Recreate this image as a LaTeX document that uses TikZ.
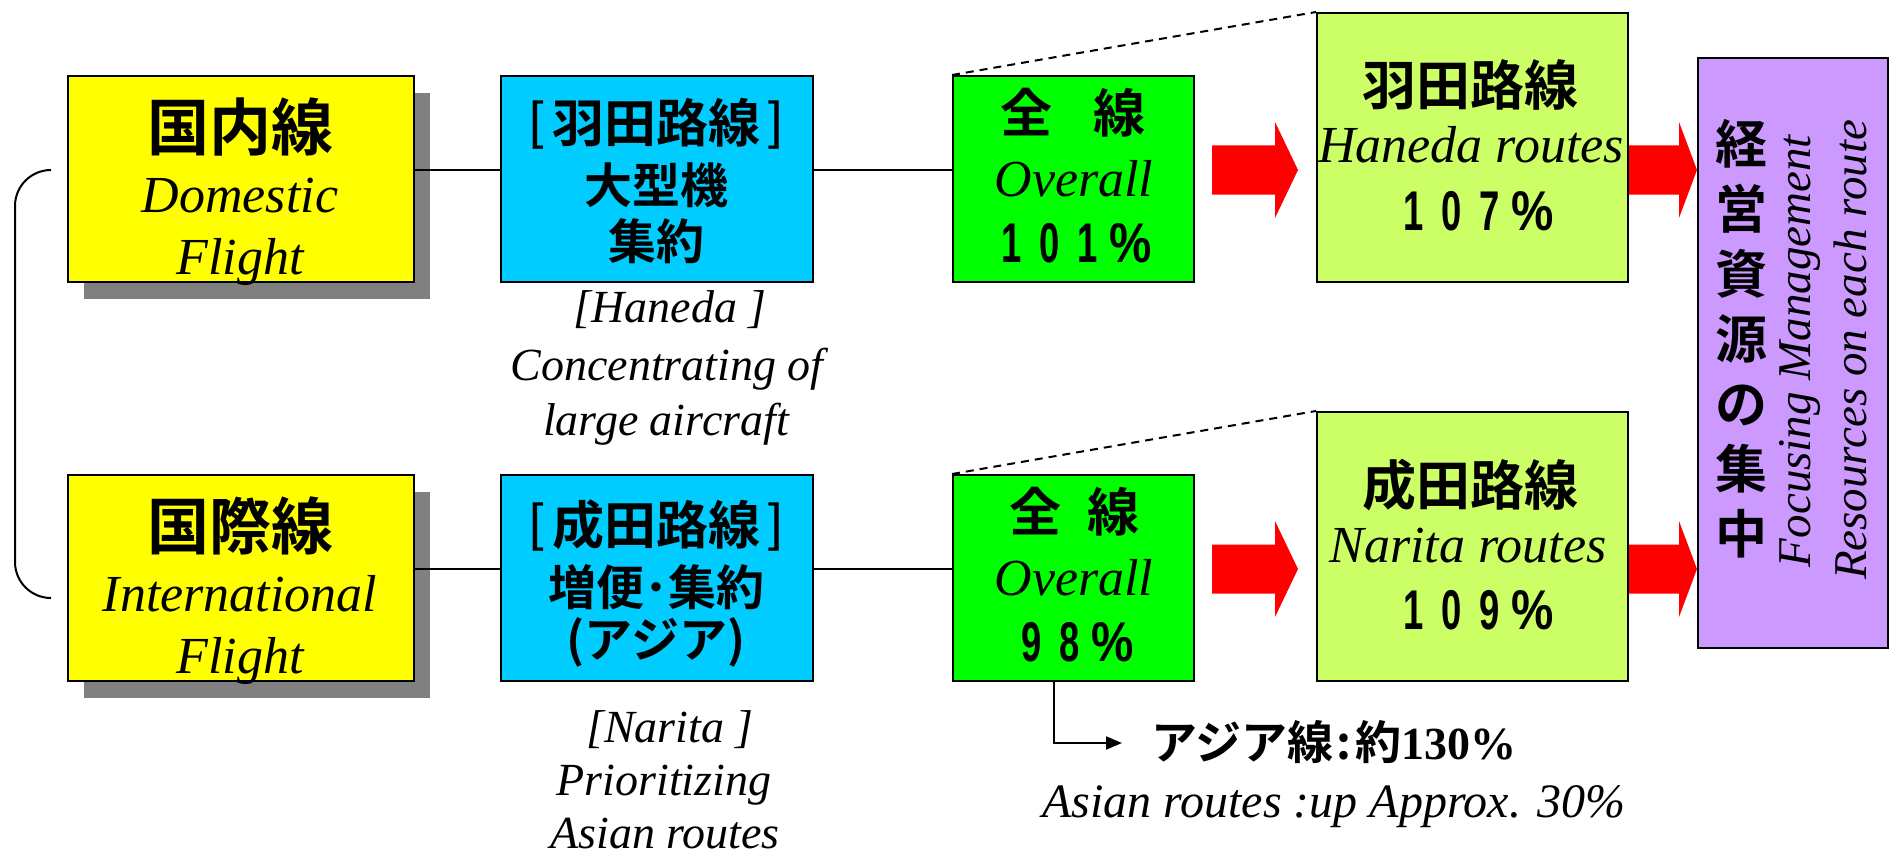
\documentclass[tikz,border=0pt]{standalone}
\usepackage{graphicx}
\usepackage{fontspec}
\setmainfont{Liberation Serif}
\newfontfamily\jp{Noto Sans CJK JP Bold}
\newfontfamily\dgf{Liberation Sans Bold}
\newfontfamily\lsans{Liberation Sans}
\usetikzlibrary{arrows.meta,calc,shadows}
\definecolor{cyel}{HTML}{FFFF00}
\definecolor{cblue}{HTML}{00CCFF}
\definecolor{cgreen}{HTML}{00FF00}
\definecolor{clight}{HTML}{CCFF66}
\definecolor{cpurple}{HTML}{CC99FF}
\definecolor{cred}{HTML}{FF0000}
\definecolor{cshadow}{HTML}{808080}
\newcommand\fs[1]{\fontsize{#1pt}{#1pt}\selectfont}
\newcommand\dg[1]{\makebox[38pt]{\scalebox{0.65}[1]{#1}}}
\newcommand\pc{\makebox[48pt]{\scalebox{0.85}[1]{\%}}}
\newcommand\lb{\raisebox{4pt}{\lsans[}\hspace{8pt}}
\newcommand\rb{\hspace{8pt}\raisebox{4pt}{\lsans]}}
\newcommand\bigarrow[4]{%
  \fill[cred] ($(#1)+(#3,-24.5)$) -- ($(#2)+(-#4,-24.5)$) -- ($(#2)+(-#4,-48)$) -- (#2)
    -- ($(#2)+(-#4,48)$) -- ($(#2)+(-#4,24.5)$) -- ($(#1)+(#3,24.5)$) -- cycle;}
\begin{document}
\begin{tikzpicture}[x=1pt,y=-1pt,
  box/.style={draw=black, line width=2pt, anchor=north west, inner sep=0pt},
  shbox/.style={box, drop shadow={shadow xshift=16pt, shadow yshift=-17pt, fill=cshadow, opacity=1}},
  txt/.style={inner sep=0pt},
  jpbig/.style={txt, font=\jp\fs{62}},
  jpmid/.style={txt, font=\jp\fs{52}},
  jpsm/.style={txt, font=\jp\fs{48}},
  it52/.style={txt, anchor=base, font=\itshape\fs{52}},
  it46/.style={txt, anchor=base, font=\itshape\fs{46}},
  num/.style={txt, font=\dgf\fs{56}},
  conn/.style={line width=2pt},
  dashline/.style={line width=2pt, dash pattern=on 8pt off 6pt}]
\useasboundingbox (0,0) rectangle (1893,856);
\fill[white] (0,0) rectangle (1893,856);
\coordinate (r1) at (0,170);
\coordinate (r2) at (0,569);
% boxes
\node[shbox, fill=cyel, minimum width=346pt, minimum height=206pt] (y1) at (67,75) {};
\node[shbox, fill=cyel, minimum width=346pt, minimum height=206pt] (y2) at (67,474) {};
\node[box, fill=cblue, minimum width=312pt, minimum height=206pt] (b1) at (500,75) {};
\node[box, fill=cblue, minimum width=312pt, minimum height=206pt] (b2) at (500,474) {};
\node[box, fill=cgreen, minimum width=241pt, minimum height=206pt] (g1) at (952,75) {};
\node[box, fill=cgreen, minimum width=241pt, minimum height=206pt] (g2) at (952,474) {};
\node[box, fill=clight, minimum width=311pt, minimum height=269pt] (l1) at (1316,12) {};
\node[box, fill=clight, minimum width=311pt, minimum height=269pt] (l2) at (1316,411) {};
\node[box, fill=cpurple, minimum width=190pt, minimum height=590pt] (p) at (1697,57) {};
% connectors
\draw[conn] (y1.east|-r1) -- (b1.west|-r1);
\draw[conn] (b1.east|-r1) -- (g1.west|-r1);
\draw[conn] (y2.east|-r2) -- (b2.west|-r2);
\draw[conn] (b2.east|-r2) -- (g2.west|-r2);
\draw[dashline] (g1.north west) -- (l1.north west);
\draw[dashline] (g2.north west) -- (l2.north west);
\coordinate (br1) at (51,170);
\coordinate (br2) at (51,598);
\draw[conn, rounded corners=36pt] (br1) -- (15,170) -- (15,598) -- (br2);
% red arrows
\coordinate (a1s) at (g1.east|-r1); \coordinate (a1e) at ($(l1.west|-r1)+(-18,0)$);
\coordinate (a2s) at (g2.east|-r2); \coordinate (a2e) at ($(l2.west|-r2)+(-18,0)$);
\coordinate (a3s) at (l1.east|-r1); \coordinate (a3e) at (p.west|-r1);
\coordinate (a4s) at (l2.east|-r2); \coordinate (a4e) at (p.west|-r2);
\bigarrow{a1s}{a1e}{17}{23}
\bigarrow{a2s}{a2e}{17}{23}
\bigarrow{a3s}{a3e}{0}{18}
\bigarrow{a4s}{a4e}{0}{18}
% yellow texts
\node[jpbig] (y1a) at (240,127) {国内線};
\node[it52] (y1b) at (240,212) {Domestic};
\node[it52] (y1c) at (240,274) {Flight};
\node[jpbig] (y2a) at (240,526) {国際線};
\node[it52] (y2b) at (240,611) {International};
\node[it52] (y2c) at (240,673) {Flight};
% blue texts
\node[jpmid] (b1a) at (656,124) {\lb 羽田路線\rb};
\node[jpsm] (b1b) at (656,185) {大型機};
\node[jpsm] (b1c) at (656,241) {集約};
\node[jpmid] (b2a) at (656,526) {\lb 成田路線\rb};
\node[jpsm] (b2b) at (656,587) {増便･集約};
\node[jpsm] (b2c) at (656,642) {(アジア)};
\node[it46] (c1a) at (670,322) {[Haneda ]};
\node[it46] (c1b) at (667,380) {Concentrating of};
\node[it46] (c1c) at (666,435) {large aircraft};
\node[it46] (c2a) at (670,742) {[Narita ]};
\node[it46] (c2b) at (664,795) {Prioritizing};
\node[it46] (c2c) at (665,848) {Asian routes};
% green texts
\node[jpmid] (g1a) at (1073,113) {全\hspace{42pt}線};
\node[it52] (g1b) at (1074,196) {Overall};
\node[num] (g1c) at (1074,243) {\dg{1}\dg{0}\dg{1}\pc};
\node[jpmid] (g2a) at (1074,512) {全\hspace{26pt}線};
\node[it52] (g2b) at (1074,595) {Overall};
\node[num] (g2c) at (1075,642) {\dg{9}\dg{8}\pc};
% light green texts
\node[txt, font=\jp\fs{54}] (l1a) at (1470,85) {羽田路線};
\node[it52] (l1b) at (1471,163) {Haneda routes};
\node[num] (l1c) at (1476,211) {\dg{1}\dg{0}\dg{7}\pc};
\node[txt, font=\jp\fs{54}] (l2a) at (1470,485) {成田路線};
\node[it52] (l2b) at (1468,562) {Narita routes};
\node[num] (l2c) at (1476,610) {\dg{1}\dg{0}\dg{9}\pc};
% purple texts
\node[txt, font=\jp\fs{52}, align=center, execute at begin node={\baselineskip=65pt}] (pa) at (1741,339) {経\\営\\資\\源\\の\\集\\中};
\node[txt, anchor=base, rotate=90, font=\itshape\fs{47}] (pb) at (1810,351) {Focusing Management};
\node[txt, anchor=base, rotate=90, font=\itshape\fs{47}] (pc) at (1866,350) {Resources on each route};
% asian branch
\coordinate (asturn) at (1054,743);
\coordinate (astip) at (1122,743);
\draw[conn, -{Triangle[length=16pt,width=13pt]}] (g2.south-|asturn) -- (asturn) -- (astip);
\node[txt, anchor=base west, font=\fs{46}] (asa) at (1151,759) {{\jp アジア線\hspace{3pt}:\hspace{4pt}約}{\bfseries 130\%}};
\node[txt, anchor=base west, font=\itshape\fs{48}] (asb) at (1042,817) {Asian routes :up Approx. 30\%};
\end{tikzpicture}
\end{document}
